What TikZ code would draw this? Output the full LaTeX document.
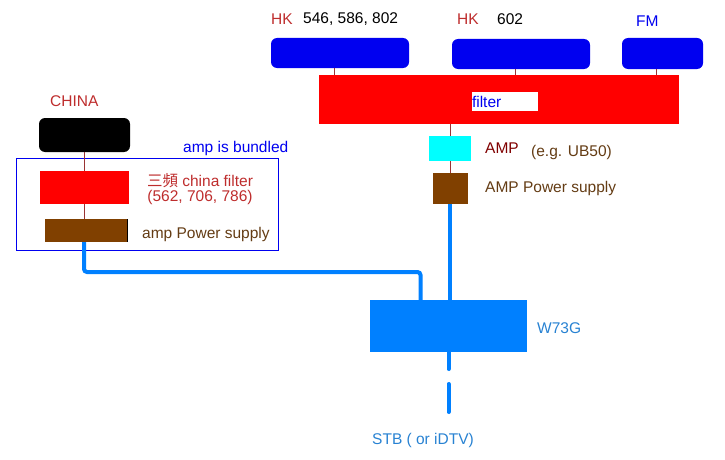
\documentclass[tikz,border=0pt]{standalone}
\usepackage{fontspec}
\setmainfont{Liberation Sans}
\newfontfamily\cjkfont{Noto Sans CJK TC}
\usepackage{xcolor}
\usetikzlibrary{calc}

\definecolor{bandblue}{RGB}{0,0,240}
\definecolor{cablecol}{RGB}{0,128,255}
\definecolor{ampcyan}{RGB}{0,255,255}
\definecolor{psbrown}{RGB}{128,64,0}
\definecolor{lblred}{RGB}{190,45,45}
\definecolor{lbldark}{RGB}{128,0,0}
\definecolor{lblbrown}{RGB}{100,60,20}
\definecolor{lblblue}{RGB}{40,130,210}

\begin{document}
\begin{tikzpicture}[x=1pt,y=-1pt,
  font=\fontsize{15.5}{17}\selectfont,
  box/.style={inner sep=0pt,outer sep=0pt},
  band/.style={box,fill=bandblue,rounded corners=6pt},
  lbl/.style={anchor=west,inner sep=0pt},
  feed/.style={lbldark!80,line width=0.6pt},
  cable/.style={cablecol,line width=4pt}]
  \useasboundingbox (0,0) rectangle (725,460);
  % HK / FM antennas and the filter
  \node[band,minimum width=138,minimum height=30] (hka) at (340,53){};
  \node[band,minimum width=138,minimum height=30] (hkb) at (521,54){};
  \node[band,minimum width=81,minimum height=31] (fm) at (662.5,53.5){};
  \node[box,fill=red,minimum width=360,minimum height=49] (filter) at (499,99.5){};
  \node[box,fill=white,minimum width=66,minimum height=19,text width=66,align=left,text=bandblue] (flbl) at (505,101.5){filter};
  \draw[feed] ([xshift=-6]hka.south) -- ([xshift=-6]hka.south |- filter.north);
  \draw[feed] ([xshift=-6]hkb.south) -- ([xshift=-6]hkb.south |- filter.north);
  \draw[feed] ([xshift=-6]fm.south) -- ([xshift=-6]fm.south |- filter.north);
  \node[lbl,text=lblred] (hkal) at (271,19){HK};
  \node[lbl] (hkan) at (303,19){546, 586, 802};
  \node[lbl,text=lblred] (hkbl) at (457,19){HK};
  \node[lbl] (hkbn) at (497,19){602};
  \node[lbl,text=bandblue] (fml) at (636,21){FM};
  % amp chain on the right
  \node[box,fill=ampcyan,minimum width=42,minimum height=25] (amp) at (450,148.5){};
  \node[box,fill=psbrown,minimum width=35,minimum height=31] (ampps) at (450,188.5){};
  \draw[feed] (amp.north) -- (amp.north |- filter.south);
  \draw[feed] (amp.south) -- (ampps.north);
  \node[lbl,text=lbldark] (ampl) at (485,148){AMP};
  \node[lbl,text=lblbrown] (ampe) at (531,152){(e.g. UB50)};
  \node[lbl,text=lblbrown] (amppsl) at (485,188){AMP Power supply};
  % china side
  \node[lbl,text=lblred] (chinal) at (50,101){CHINA};
  \node[box,fill=black,rounded corners=6pt,minimum width=91,minimum height=34] (china) at (84.5,135){};
  \node[box,draw=bandblue,line width=0.8pt,minimum width=262,minimum height=92] (bundle) at (147,204){};
  \node[lbl,text=bandblue] (bundlel) at (183,148){amp is bundled};
  \node[box,fill=red,minimum width=89,minimum height=33] (cnfilter) at (84,187.5){};
  \node[box,fill=psbrown,minimum width=82,minimum height=23] (cnps) at (86,230.5){};
  \draw[black,line width=1pt] (cnps.north east) -- (cnps.south east);
  \draw[feed] (china.south) -- (china.south |- cnfilter.north);
  \draw[feed] (cnfilter.south -| china.south) -- (cnps.north -| china.south);
  \node[align=center,text=lblred,inner sep=0pt] (cnfl) at (200,189){{\cjkfont 三頻} china filter\\[-2pt](562, 706, 786)};
  \node[lbl,text=lblbrown] (cnpsl) at (142,234){amp Power supply};
  % W73G and cables
  \node[box,fill=cablecol,minimum width=157,minimum height=52] (w73g) at (448.5,326){};
  \node[lbl,text=lblblue] (w73gl) at (537,328){W73G};
  \node[lbl,text=lblblue] (stb) at (372,440){STB ( or iDTV)};
  \coordinate (stbend) at (w73g.south |- 0,412);
  \draw[cable] (ampps.south) -- (ampps.south |- w73g.north);
  \draw[cable,rounded corners=3pt] ([xshift=-2]cnps.south) -- ++(0,30) -| ([xshift=-28]w73g.north);
  \draw[cable,line cap=round,dash pattern=on 17pt off 15pt on 28pt off 20pt] (w73g.south) -- (stbend);
\end{tikzpicture}
\end{document}
